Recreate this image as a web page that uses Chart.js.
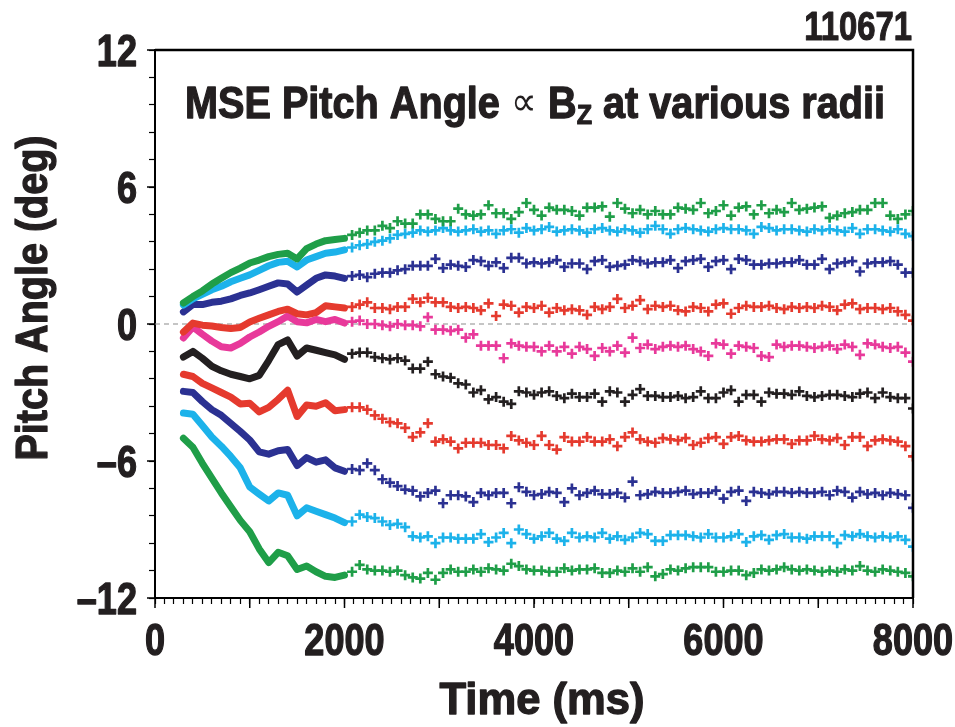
<!DOCTYPE html>
<html>
<head>
<meta charset="utf-8">
<script src="https://cdn.jsdelivr.net/npm/chart.js@4.4.1/dist/chart.umd.min.js"></script>
<style>
  html, body { margin: 0; padding: 0; background: #fff; }
  #wrap { width: 955px; height: 727px; position: relative; }
</style>
</head>
<body>
<div id="wrap"><canvas id="c" width="955" height="727"></canvas></div>
<script>
// ---------- data ----------
const solidTimes = [300,400,500,600,700,800,900,1000,1100,1200,1300,1400,1500,1600,1700,1800,1900,2000];
const markTimes = [2080,2160,2240,2320,2400,2480,2560,2640,2720,2800,2880,2960,3040,3120,3200,3280,3360,3440,3520,3600,
  3680,3760,3840,3920,4000,4080,4160,4240,4320,4400,4480,4560,4640,4720,4800,4880,4960,5040,5120,5200,
  5280,5360,5440,5520,5600,5680,5760,5840,5920,6000,6080,6160,6240,6320,6400,6480,6560,6640,6720,6800,
  6880,6960,7040,7120,7200,7280,7360,7440,7520,7600,7680,7760,7840,7920,8000];
const xTickValues = [0, 2000, 4000, 6000, 8000];
const xTickLabels = ["0","2000","4000","6000","8000"];
const yTickValues = [-12, -6, 0, 6, 12];
const yTickLabels = ["–12","–6","0","6","12"];

const greenTopSolid = [0.92,1.2,1.45,1.75,2.0,2.25,2.45,2.67,2.8,2.95,3.05,3.1,2.85,3.3,3.5,3.65,3.7,3.75];
const greenTopMarks = [3.9,4.0,4.1,4.1,4.3,4.2,4.5,4.4,4.4,4.8, 4.8,4.6,4.5,4.5,5.05,4.8,4.75,4.8,5.2,4.85,
  4.85,4.6,4.9,5.3,5.0,4.75,5.1,5.0,5.0,4.95, 4.75,5.1,5.1,5.15,4.7,5.3,5.05,4.85,5.0,4.8,
  4.95,4.8,4.8,5.1,5.05,5.0,5.3,4.85,4.95,5.2, 4.75,5.1,5.15,4.8,5.2,4.85,5.0,4.9,5.3,5.0,
  5.05,5.1,5.15,4.65,4.75,4.85,4.9,5.0,5.0,5.3, 5.3,4.75,4.6,4.8,4.95];

const cyanTopSolid = [0.83,1.1,1.3,1.5,1.65,1.85,2.0,2.15,2.35,2.55,2.7,2.75,2.5,2.8,2.95,3.1,3.15,3.25];
const cyanTopMarks = [3.35,3.45,3.5,3.6,3.65,3.75,3.9,3.95,4.0,4.1, 4.05,4.1,4.2,4.1,4.05,4.1,4.15,4.05,4.1,3.95,
  4.1,4.15,4.0,4.2,4.1,4.15,4.25,4.05,4.1,4.15, 4.1,4.0,4.15,4.2,4.1,4.05,4.15,4.1,4.0,4.15,
  4.3,4.15,3.95,4.15,4.2,4.15,4.1,4.05,4.15,4.2, 4.15,4.15,4.1,3.95,4.25,4.2,4.1,4.15,4.15,4.1,
  4.05,4.15,4.1,4.15,4.1,4.05,4.2,3.95,4.15,4.15, 4.1,4.05,4.15,3.95,3.85];

const navyTopSolid = [0.53,0.85,0.85,0.95,1.0,1.1,1.25,1.36,1.5,1.65,1.8,1.75,1.4,1.7,2.0,2.15,2.1,2.0];
const navyTopMarks = [2.1,2.15,2.05,2.2,2.25,2.25,2.35,2.4,2.55,2.55, 2.55,2.85,2.45,2.6,2.55,2.5,2.8,2.75,2.55,2.7,
  2.45,2.9,2.9,2.65,2.7,2.65,2.7,2.8,2.5,2.65, 2.65,2.4,2.75,2.8,2.5,2.55,2.6,2.8,2.75,2.65,
  2.7,2.7,2.8,2.45,2.75,2.8,2.85,2.5,2.75,2.8, 2.4,2.85,2.8,2.6,2.6,2.65,2.65,2.7,2.7,2.8,
  2.6,2.6,2.85,2.4,2.65,2.7,2.75,2.3,2.65,2.7, 2.7,2.75,2.6,2.25,2.25];

const redTopSolid = [-0.35,0.04,-0.05,-0.09,-0.15,-0.2,-0.15,0.09,0.25,0.4,0.55,0.65,0.45,0.4,0.5,0.8,0.75,0.7];
const redTopMarks = [0.75,0.85,0.95,0.7,0.7,0.65,0.75,0.75,1.1,0.95, 1.15,0.95,0.95,0.75,0.7,0.75,0.7,0.6,0.9,0.35,
  0.85,0.8,0.5,0.75,0.7,0.8,0.5,0.7,0.6,0.65, 0.6,0.4,0.75,0.65,0.75,1.1,0.7,0.8,1.05,0.65,
  0.8,0.75,0.8,0.6,0.55,0.75,0.7,0.55,0.85,0.9, 0.45,0.7,0.8,0.75,0.75,0.8,0.7,0.65,0.75,0.7,
  0.75,0.7,0.8,0.75,0.6,0.85,0.9,0.65,0.7,0.7, 0.65,0.7,0.55,0.4,0.15];

const magentaSolid = [-0.61,-0.13,-0.45,-0.75,-1.0,-1.05,-0.85,-0.57,-0.35,-0.1,0.1,0.35,0.1,0.05,0.2,0.1,0.2,0.04];
const magentaMarks = [0.1,0.15,0.0,0.0,-0.05,-0.1,0.0,-0.05,-0.05,-0.1, 0.3,-0.25,-0.25,-0.3,-0.25,-0.6,-0.45,-0.95,-0.95,-0.95,
  -1.5,-0.85,-0.95,-1.0,-1.0,-1.2,-0.95,-1.2,-1.0,-1.3, -1.0,-1.1,-1.4,-1.05,-1.2,-0.95,-1.25,-0.6,-1.05,-0.9,
  -1.1,-1.0,-0.95,-1.0,-0.95,-1.1,-1.2,-1.4,-0.85,-0.9, -1.3,-0.95,-1.0,-1.05,-1.4,-1.45,-0.9,-1.0,-0.95,-0.95,
  -1.0,-1.05,-1.0,-0.95,-1.1,-0.9,-1.0,-1.35,-0.85,-0.9, -1.0,-1.05,-1.0,-1.25,-1.65];

const blackSolid = [-1.45,-1.2,-1.5,-1.85,-2.05,-2.2,-2.3,-2.4,-2.25,-1.6,-0.9,-0.7,-1.4,-1.05,-1.15,-1.25,-1.35,-1.55];
const blackMarks = [-1.3,-1.25,-1.25,-1.45,-1.5,-1.55,-1.5,-1.6,-1.95,-1.95, -1.65,-2.2,-2.3,-2.35,-2.6,-2.65,-3.0,-2.9,-3.3,-3.2,
  -3.4,-3.5,-2.95,-3.0,-3.1,-3.0,-2.95,-3.15,-3.25,-3.05, -3.2,-3.2,-3.05,-3.4,-2.95,-3.0,-3.4,-3.1,-2.85,-3.15,
  -3.15,-3.2,-3.2,-3.15,-3.25,-3.2,-2.95,-3.25,-3.25,-3.0, -2.9,-3.4,-3.1,-3.1,-3.4,-3.0,-3.05,-3.05,-3.1,-2.95,
  -3.15,-3.2,-3.15,-3.1,-3.1,-3.15,-3.2,-3.05,-3.0,-3.25, -3.0,-3.2,-3.25,-3.25,-3.7];

const redBotSolid = [-2.2,-2.3,-2.6,-2.8,-3.0,-3.2,-3.5,-3.47,-3.85,-3.65,-3.3,-2.9,-4.05,-3.55,-3.6,-3.45,-3.8,-3.75];
const redBotMarks = [-3.65,-3.65,-3.75,-4.0,-4.15,-4.3,-4.35,-4.55,-4.95,-4.75, -4.35,-5.15,-5.05,-5.15,-5.45,-5.2,-5.2,-5.2,-5.3,-5.3,
  -5.45,-4.9,-5.1,-5.2,-5.3,-4.9,-5.3,-5.5,-4.95,-5.15, -5.15,-4.95,-5.15,-5.15,-5.05,-5.35,-4.95,-4.75,-5.05,-5.15,
  -5.2,-5.0,-5.05,-5.1,-5.0,-5.3,-5.2,-5.0,-4.95,-5.25, -4.95,-4.9,-5.1,-5.15,-5.15,-5.1,-5.05,-5.05,-5.25,-5.1,
  -5.1,-4.9,-5.05,-5.1,-5.0,-5.3,-4.95,-4.95,-5.35,-5.1, -5.05,-5.1,-5.15,-5.35,-5.8];

const navyBotSolid = [-2.95,-3.0,-3.4,-3.75,-4.0,-4.35,-4.7,-5.08,-5.6,-5.7,-5.55,-5.5,-6.2,-5.85,-6.05,-5.95,-6.3,-6.45];
const navyBotMarks = [-6.35,-6.4,-6.1,-6.4,-6.8,-6.95,-7.1,-7.25,-7.3,-7.55, -7.4,-7.3,-7.85,-7.5,-7.5,-7.55,-7.8,-7.4,-7.5,-7.4,
  -7.4,-7.85,-7.15,-7.35,-7.5,-7.45,-7.35,-7.4,-7.8,-7.2, -7.5,-7.4,-7.3,-7.45,-7.45,-7.4,-7.6,-6.9,-7.5,-7.45,
  -7.35,-7.4,-7.4,-7.35,-7.3,-7.45,-7.4,-7.4,-7.3,-7.65, -7.35,-7.3,-7.75,-7.35,-7.4,-7.45,-7.35,-7.35,-7.4,-7.35,
  -7.4,-7.4,-7.35,-7.5,-7.3,-7.35,-7.6,-7.35,-7.45,-7.4, -7.5,-7.4,-7.45,-7.5,-8.05];

const cyanBotSolid = [-3.9,-3.95,-4.45,-4.95,-5.35,-5.8,-6.3,-7.14,-7.45,-7.75,-7.4,-7.5,-8.4,-8.05,-8.2,-8.35,-8.5,-8.7];
const cyanBotMarks = [-8.65,-8.35,-8.45,-8.5,-8.65,-8.8,-8.75,-8.9,-9.3,-9.35, -9.3,-9.6,-9.35,-9.35,-9.4,-9.4,-9.4,-9.2,-9.55,-9.35,
  -9.15,-9.6,-9.0,-9.2,-9.4,-9.3,-9.15,-9.4,-9.5,-9.15, -9.35,-9.3,-9.35,-9.15,-9.4,-9.3,-9.45,-9.35,-9.15,-9.2,
  -9.5,-9.5,-9.25,-9.25,-9.25,-9.3,-9.35,-9.2,-9.35,-9.35, -9.3,-9.2,-9.55,-9.3,-9.25,-9.45,-9.25,-9.2,-9.35,-9.35,
  -9.4,-9.3,-9.3,-9.3,-9.6,-9.25,-9.3,-9.2,-9.3,-9.35, -9.3,-9.35,-9.3,-9.45,-9.75];

const greenBotSolid = [-5.0,-5.4,-6.1,-6.75,-7.4,-8.0,-8.6,-9.1,-9.85,-10.45,-10.0,-10.15,-10.75,-10.6,-10.85,-11.05,-11.1,-11.0];
const greenBotMarks = [-10.85,-10.55,-10.75,-10.8,-10.8,-10.85,-10.8,-11.0,-11.1,-11.15, -10.9,-11.2,-10.9,-10.75,-10.85,-10.85,-10.75,-10.85,-10.7,-10.75,
  -10.8,-10.5,-10.6,-10.75,-10.8,-10.8,-10.85,-10.85,-10.7,-10.8, -10.75,-10.75,-10.7,-10.9,-10.9,-10.8,-10.85,-10.7,-10.85,-10.65,
  -11.05,-10.95,-10.75,-10.8,-10.7,-10.65,-10.65,-10.65,-10.85,-10.85, -10.8,-10.8,-11.0,-10.9,-10.75,-10.8,-10.75,-10.65,-10.75,-10.8,
  -10.75,-10.8,-10.85,-10.8,-10.85,-10.75,-10.8,-10.6,-10.8,-10.85, -10.75,-10.8,-10.85,-10.9,-11.05];

const zeroLineTimes = [0, 8000];
const zeroLineValues = [0, 0];

// ---------- styling ----------
const GREEN = '#1f9e48', CYAN = '#1cb2ea', NAVY = '#2b3192', RED = '#e53a2e', MAGENTA = '#e8399a', BLACK = '#231f20';
const FONT = "'Liberation Sans', Arial, sans-serif";
const TXT = '#231f20';

const series = [
  [greenTopSolid, greenTopMarks, GREEN],
  [cyanTopSolid, cyanTopMarks, CYAN],
  [navyTopSolid, navyTopMarks, NAVY],
  [redTopSolid, redTopMarks, RED],
  [magentaSolid, magentaMarks, MAGENTA],
  [blackSolid, blackMarks, BLACK],
  [redBotSolid, redBotMarks, RED],
  [navyBotSolid, navyBotMarks, NAVY],
  [cyanBotSolid, cyanBotMarks, CYAN],
  [greenBotSolid, greenBotMarks, GREEN]
];

const pairs = (xs, ys) => xs.map((x, i) => ({ x: x, y: ys[i] }));

const datasets = [{
  data: pairs(zeroLineTimes, zeroLineValues),
  borderColor: '#8c8c8c', borderWidth: 1.2, borderDash: [5, 4],
  pointRadius: 0, showLine: true, order: 100
}];
series.forEach(([solid, marks, col]) => {
  datasets.push({
    data: pairs(solidTimes, solid),
    borderColor: col, backgroundColor: col, borderWidth: 7,
    borderJoinStyle: 'round', borderCapStyle: 'round',
    pointRadius: 0, showLine: true, order: 1
  });
  datasets.push({
    data: pairs(markTimes, marks),
    borderColor: col, backgroundColor: col, showLine: false,
    pointStyle: 'cross', pointRadius: 5, pointBorderWidth: 2.7, order: 1
  });
});

// draw condensed heavy text (horizontal squeeze + thin outline for weight)
function ctext(ctx, str, x, y, size, align, sx, weight, outline) {
  ctx.save();
  ctx.font = (weight || 'bold') + ' ' + size + 'px ' + FONT;
  ctx.textAlign = align; ctx.textBaseline = 'alphabetic';
  ctx.translate(x, y); ctx.scale(sx, 1);
  ctx.fillText(str, 0, 0);
  if (outline) {
    ctx.lineWidth = outline; ctx.strokeStyle = ctx.fillStyle; ctx.lineJoin = 'round';
    ctx.strokeText(str, 0, 0);
  }
  ctx.restore();
}

// ---------- plugins ----------
const decor = {
  id: 'decor',
  afterDraw(chart) {
    const { ctx, chartArea: a, scales } = chart;
    ctx.save();
    // frame (top & right)
    ctx.strokeStyle = '#000';
    ctx.lineWidth = 2.5;
    ctx.beginPath();
    ctx.moveTo(a.left, a.top); ctx.lineTo(a.right, a.top); ctx.lineTo(a.right, a.bottom);
    ctx.stroke();
    // longer x ticks every 1000
    ctx.lineWidth = 1.5;
    for (let v = 0; v <= 8000; v += 1000) {
      const px = scales.x.getPixelForValue(v);
      ctx.beginPath(); ctx.moveTo(px, a.bottom); ctx.lineTo(px, a.bottom + 10); ctx.stroke();
    }
    // longer y ticks at labelled values
    yTickValues.forEach(v => {
      const py = scales.y.getPixelForValue(v);
      ctx.beginPath(); ctx.moveTo(a.left, py); ctx.lineTo(a.left - 8, py); ctx.stroke();
    });
    ctx.fillStyle = TXT;
    const SX = 0.82, OL = 1.3;
    // tick labels
    xTickValues.forEach((v, i) => {
      ctext(ctx, xTickLabels[i], scales.x.getPixelForValue(v), 655, 44, 'center', SX, 'bold', OL);
    });
    yTickValues.forEach((v, i) => {
      ctext(ctx, yTickLabels[i], 137, scales.y.getPixelForValue(v) + 15.5, 44, 'right', SX, 'bold', OL);
    });
    // shot number
    ctext(ctx, '110671', 912, 40, 40, 'right', SX, 'bold', 1.1);
    // title with subscript
    const bigS = 44, smallS = 28, symS = 40;
    const p1 = 'MSE Pitch Angle ', sym = '\u221D', p2 = ' B', sub = 'Z', p3 = ' at various radii';
    const meas = (s, sz, w) => { ctx.font = (w || 'bold') + ' ' + sz + 'px ' + FONT; return ctx.measureText(s).width; };
    const w1 = meas(p1, bigS), ws = meas(sym, symS, 'normal'), w2 = meas(p2, bigS), wz = meas(sub, smallS), w3 = meas(p3, bigS);
    const total = w1 + ws + w2 + wz + w3;
    const tsx = 700 / total;
    let x = 535 - 350;
    const by = 118;
    ctext(ctx, p1, x, by, bigS, 'left', tsx, 'bold', OL); x += w1 * tsx;
    ctext(ctx, sym, x, by - 3, symS, 'left', tsx, 'normal'); x += ws * tsx;
    ctext(ctx, p2, x, by, bigS, 'left', tsx, 'bold', OL); x += w2 * tsx;
    ctext(ctx, sub, x, by + 6, smallS, 'left', tsx, 'bold', 1); x += wz * tsx;
    ctext(ctx, p3, x, by, bigS, 'left', tsx, 'bold', OL);
    // axis titles
    const wt = meas('Time (ms)', 44);
    ctext(ctx, 'Time (ms)', 542, 714, 44, 'center', 205 / wt, 'bold', OL);
    const wp = meas('Pitch Angle (deg)', 44);
    ctx.save();
    ctx.translate(47, 298);
    ctx.rotate(-Math.PI / 2);
    ctext(ctx, 'Pitch Angle (deg)', 0, 0, 44, 'center', 325 / wp, 'bold', OL);
    ctx.restore();
    ctx.restore();
  }
};

new Chart(document.getElementById('c'), {
  type: 'scatter',
  data: { datasets },
  plugins: [decor],
  options: {
    responsive: false, animation: false, devicePixelRatio: 1,
    layout: { padding: { top: 50, right: 42, left: 0, bottom: 0 } },
    plugins: { legend: { display: false }, tooltip: { enabled: false }, title: { display: false } },
    scales: {
      x: {
        type: 'linear', min: 0, max: 8000,
        afterFit: s => { s.height = 129; },
        border: { display: true, color: '#000', width: 2 },
        grid: { drawOnChartArea: false, drawTicks: true, tickLength: 6, tickColor: '#000', tickWidth: 1.2 },
        ticks: { display: false, stepSize: 100, maxTicksLimit: 200, autoSkip: false }
      },
      y: {
        type: 'linear', min: -12, max: 12,
        afterFit: s => { s.width = 155; },
        border: { display: true, color: '#000', width: 2 },
        grid: { drawOnChartArea: false, drawTicks: true, tickLength: 6, tickColor: '#000', tickWidth: 1.2 },
        ticks: { display: false, stepSize: 1.2, maxTicksLimit: 200, autoSkip: false }
      }
    }
  }
});
</script>
</body>
</html>
